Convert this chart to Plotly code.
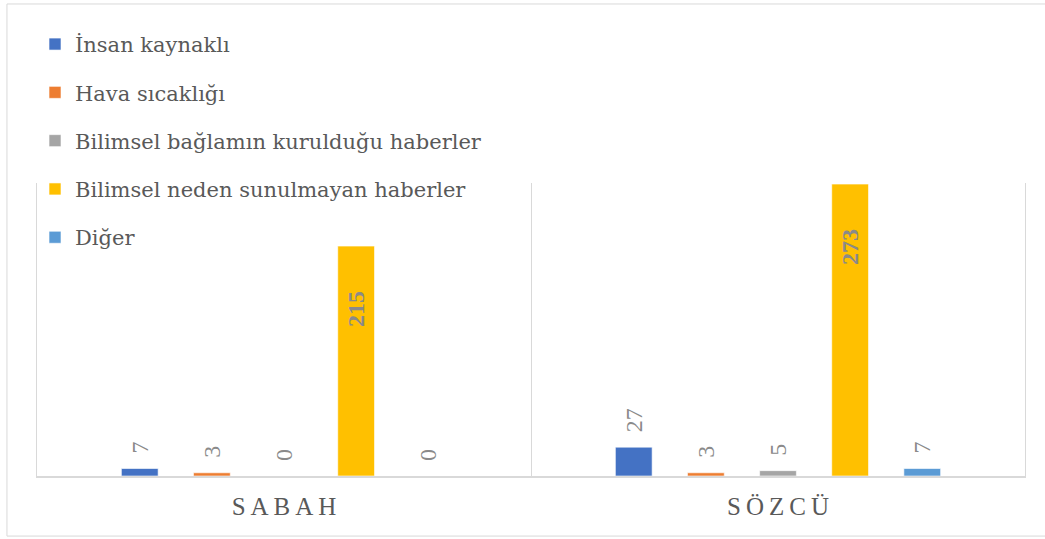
import plotly.graph_objects as go

categories = ["S\u2009A\u2009B\u2009A\u2009H", "S\u2009Ö\u2009Z\u2009C\u2009Ü"]
series_names = [
    "İnsan kaynaklı",
    "Hava sıcaklığı",
    "Bilimsel bağlamın kurulduğu haberler",
    "Bilimsel neden sunulmayan haberler",
    "Diğer",
]
insan_kaynakli = [7, 27]
hava_sicakligi = [3, 3]
bilimsel_baglam = [0, 5]
bilimsel_neden_yok = [215, 273]
diger = [0, 7]

series_values = [insan_kaynakli, hava_sicakligi, bilimsel_baglam, bilimsel_neden_yok, diger]
colors = ["#4472C4", "#ED7D31", "#A5A5A5", "#FFC000", "#5B9BD5"]

FONT = "Liberation Serif, serif"
LEGEND_FONT = "DejaVu Serif, serif"

fig = go.Figure()
for i, (name, vals, col) in enumerate(zip(series_names, series_values, colors)):
    inside = (i == 3)
    if inside:
        texts = ["<b>%d</b>" % v + "\u00a0" * 7 for v in vals]
    else:
        texts = ["\u00a0\u00a0" + str(v) for v in vals]
    fig.add_trace(go.Bar(
        name=name,
        x=categories,
        y=vals,
        legendgroup=name,
        marker=dict(color=col, line=dict(color="rgba(255,255,255,0.6)", width=1)),
        text=texts,
        texttemplate="%{text}",
        textposition="inside" if inside else "outside",
        insidetextanchor="end",
        textangle=-90,
        constraintext="none",
        cliponaxis=False,
        textfont=dict(family=FONT, size=24, color="#8a8a8a"),
        hoverinfo="skip",
    ))

fig.update_layout(
    width=1045,
    height=539,
    margin=dict(l=37, r=20, t=183, b=63, autoexpand=False),
    paper_bgcolor="white",
    plot_bgcolor="white",
    barmode="group",
    bargap=0.27,
    bargroupgap=0.49,
    showlegend=True,
    legend=dict(
        x=-0.002, y=1.543, xanchor="left", yanchor="top",
        font=dict(family=LEGEND_FONT, size=21, color="#595959"),
        traceorder="grouped",
        tracegroupgap=18,
        bgcolor="rgba(0,0,0,0)",
    ),
    font=dict(family=FONT, color="#595959"),
)
fig.update_xaxes(
    showgrid=True, gridcolor="#d9d9d9", gridwidth=1,
    tickson="boundaries", automargin=False,
    showline=True, linecolor="#d9d9d9", linewidth=2,
    ticks="", ticklabelstandoff=7,
    tickfont=dict(family=FONT, size=25, color="#595959"),
    zeroline=False,
)
fig.update_yaxes(
    range=[0, 274], visible=True, showticklabels=False, ticks="",
    showgrid=False, zeroline=False, automargin=False,
    showline=True, mirror=True, linecolor="#d9d9d9", linewidth=1,
)
fig.add_shape(
    type="rect", xref="paper", yref="paper",
    x0=-0.0304, x1=1.03, y0=-0.205, y1=1.611,
    line=dict(color="#d9d9d9", width=1), fillcolor="rgba(0,0,0,0)", layer="below",
)
fig.write_html(
    "out.html",
    config={"displayModeBar": False},
    post_script="document.body.style.margin='0px';",
)
